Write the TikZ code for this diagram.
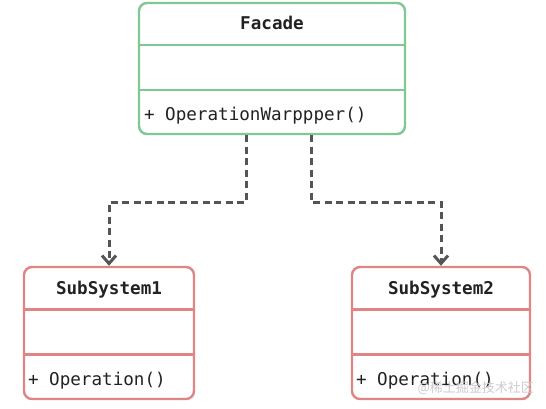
\documentclass[tikz,border=0pt]{standalone}
\usepackage{fontspec}
\setmonofont{DejaVu Sans Mono}
\newfontfamily\cjkfont{Noto Sans CJK SC}
\usetikzlibrary{arrows.meta,positioning}
\definecolor{facadegreen}{RGB}{128,200,145}
\definecolor{subred}{RGB}{224,132,132}
\definecolor{linkgray}{RGB}{85,85,85}
\definecolor{textdark}{RGB}{34,34,34}
\tikzset{
  classbox/.style={draw, line width=2.4pt, rounded corners=8pt, inner sep=0pt},
  classtitle/.style={text=textdark, font=\ttfamily\bfseries\fontsize{17.6}{20}\selectfont, inner sep=0pt},
  classop/.style={text=textdark, font=\ttfamily\fontsize{17.6}{20}\selectfont, anchor=west, inner sep=0pt},
  depend/.style={linkgray, line width=3pt, dash pattern=on 7pt off 4.5pt,
    -{Straight Barb[length=8pt,width=14pt]}}
}
\begin{document}
\begin{tikzpicture}[x=1pt,y=-1pt]
  \fill[white] (0,0) rectangle (546,409);
  \useasboundingbox (0,0) rectangle (546,409);
  % class boxes
  \node[classbox, draw=facadegreen, minimum width=266pt, minimum height=131pt] (facade) at (272,68.5) {};
  \node[classbox, draw=subred, minimum width=170pt, minimum height=132pt] (sub1) at (109,333) {};
  \node[classbox, draw=subred, minimum width=178pt, minimum height=132pt] (sub2) at (441,333) {};
  % compartments
  \foreach \cls/\col in {facade/facadegreen, sub1/subred, sub2/subred}{
    \draw[\col, line width=2.4pt] ([yshift=-43.5pt]\cls.north west) -- ([yshift=-43.5pt]\cls.north east);
    \draw[\col, line width=2.4pt] ([yshift=-88.5pt]\cls.north west) -- ([yshift=-88.5pt]\cls.north east);
  }
  % names and operations
  \node[classtitle] (facadename) at ([yshift=-21pt]facade.north) {Facade};
  \node[classop] (facadeop) at ([xshift=6pt,yshift=20pt]facade.south west) {+ OperationWarppper()};
  \node[classtitle] (sub1name) at ([yshift=-24pt]sub1.north) {SubSystem1};
  \node[classop] (sub1op) at ([xshift=5pt,yshift=20pt]sub1.south west) {+ Operation()};
  \node[classtitle] (sub2name) at ([yshift=-24pt]sub2.north) {SubSystem2};
  \node[classop] (sub2op) at ([xshift=5pt,yshift=20pt]sub2.south west) {+ Operation()};
  % dependencies
  \draw[depend] ([xshift=-26pt]facade.south) -- ++(0,67) -| (sub1.north);
  \draw[depend] ([xshift=39pt]facade.south) -- ++(0,67) -| (sub2.north);
  \node[anchor=east, text=black!20, font=\cjkfont\fontsize{13}{15}\selectfont, inner sep=0pt] (watermark) at (534,388) {@稀土掘金技术社区};
\end{tikzpicture}
\end{document}
